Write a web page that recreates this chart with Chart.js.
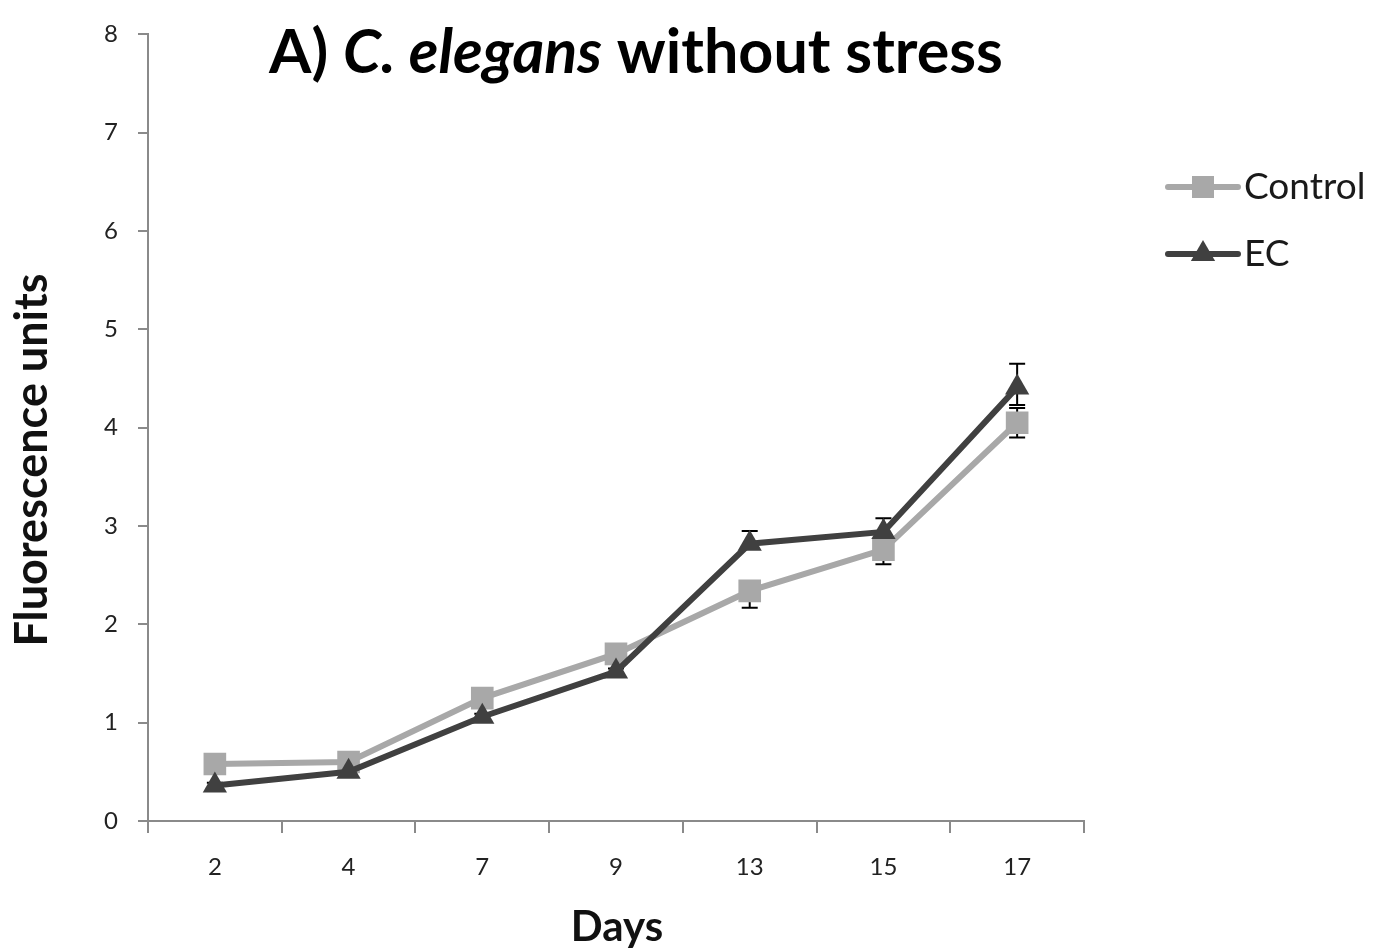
<!DOCTYPE html>
<html>
<head>
<meta charset="utf-8">
<title>Fluorescence over days</title>
<script src="https://cdn.jsdelivr.net/npm/chart.js@4/dist/chart.umd.min.js"></script>
<style>
  html, body { margin: 0; padding: 0; background: #ffffff; }
  #wrap { width: 1380px; height: 950px; }
</style>
</head>
<body>
<div id="wrap"><canvas id="chart" width="1380" height="950"></canvas></div>
<script>
// Day of measurement
const days = ['2', '4', '7', '9', '13', '15', '17'];

// Mean fluorescence per day
const controlValues = [0.58, 0.60, 1.25, 1.70, 2.34, 2.76, 4.05];
const ecValues = [0.36, 0.50, 1.06, 1.52, 2.82, 2.94, 4.41];

// Error bar extents above and below each mean
const controlErrPlus = [0.03, 0.03, 0.03, 0.03, 0.08, 0.08, 0.15];
const controlErrMinus = [0.03, 0.03, 0.03, 0.03, 0.17, 0.15, 0.15];
const ecErrPlus = [0.03, 0.03, 0.03, 0.03, 0.13, 0.14, 0.24];
const ecErrMinus = [0.03, 0.03, 0.03, 0.03, 0.05, 0.13, 0.18];

// Value axis
const yMin = 0;
const yMax = 8;
const yStep = 1;

const seriesNames = ['Control', 'EC'];
const titleParts = [
  { text: 'A) ', style: 'normal' },
  { text: 'C. elegans', style: 'italic' },
  { text: ' without stress', style: 'normal' }
];
const xAxisTitle = 'Days';
const yAxisTitle = 'Fluorescence units';

const FONT = 'Lato, "Open Sans", sans-serif';
const LIGHT = '#a8a8a8';
const DARK = '#404040';
const AXIS = '#8a8a8a';

// Vertical error bars, drawn under the lines and markers
const errorBars = {
  id: 'errorBars',
  beforeDatasetsDraw(chart) {
    const ctx = chart.ctx;
    const y = chart.scales.y;
    const plus = [controlErrPlus, ecErrPlus];
    const minus = [controlErrMinus, ecErrMinus];
    ctx.save();
    ctx.strokeStyle = '#000000';
    ctx.lineWidth = 2;
    chart.data.datasets.forEach((ds, di) => {
      const meta = chart.getDatasetMeta(di);
      meta.data.forEach((pt, i) => {
        const v = ds.data[i];
        const top = y.getPixelForValue(v + plus[di][i]);
        const bot = y.getPixelForValue(v - minus[di][i]);
        const x = pt.x;
        ctx.beginPath();
        ctx.moveTo(x, top); ctx.lineTo(x, bot);
        ctx.moveTo(x - 8, top); ctx.lineTo(x + 8, top);
        ctx.moveTo(x - 8, bot); ctx.lineTo(x + 8, bot);
        ctx.stroke();
      });
    });
    ctx.restore();
  }
};

// Heading with the species name in italics, plus the two axis titles
const headings = {
  id: 'headings',
  afterDraw(chart) {
    const ctx = chart.ctx;
    const size = 61;
    ctx.save();
    ctx.fillStyle = '#000000';
    ctx.textBaseline = 'alphabetic';
    ctx.textAlign = 'left';
    const fonts = titleParts.map(p => `${p.style} bold ${size}px ${FONT}`);
    let total = 0;
    const widths = titleParts.map((p, i) => { ctx.font = fonts[i]; const w = ctx.measureText(p.text).width; total += w; return w; });
    let x = 636 - total / 2;
    titleParts.forEach((p, i) => {
      ctx.font = fonts[i];
      ctx.fillText(p.text, x, 73);
      x += widths[i];
    });

    ctx.fillStyle = '#111111';
    ctx.textAlign = 'center';
    ctx.font = `bold 42px ${FONT}`;
    ctx.fillText(xAxisTitle, 617, 941);

    ctx.translate(47, 460);
    ctx.rotate(-Math.PI / 2);
    ctx.font = `bold 45px ${FONT}`;
    ctx.fillText(yAxisTitle, 0, 0);
    ctx.restore();
  }
};

// Legend at the right: line sample with marker, then series name
const sideLegend = {
  id: 'sideLegend',
  afterDraw(chart) {
    const ctx = chart.ctx;
    const rows = [187, 254];
    ctx.save();
    chart.data.datasets.forEach((ds, i) => {
      const yy = rows[i];
      ctx.strokeStyle = ds.borderColor;
      ctx.lineWidth = 6;
      ctx.lineCap = 'round';
      ctx.beginPath();
      ctx.moveTo(1168, yy); ctx.lineTo(1238, yy);
      ctx.stroke();
      ctx.fillStyle = ds.pointBackgroundColor;
      if (ds.pointStyle === 'rect') {
        ctx.fillRect(1203 - 11, yy - 11, 22, 22);
      } else {
        const r = 14;
        ctx.beginPath();
        ctx.moveTo(1203, yy - r);
        ctx.lineTo(1203 + r * 0.866, yy + r / 2);
        ctx.lineTo(1203 - r * 0.866, yy + r / 2);
        ctx.closePath();
        ctx.fill();
      }
      ctx.fillStyle = '#1a1a1a';
      ctx.font = `37px ${FONT}`;
      ctx.textBaseline = 'middle';
      ctx.textAlign = 'left';
      ctx.fillText(ds.label, 1244, yy);
    });
    ctx.restore();
  }
};

new Chart(document.getElementById('chart'), {
  type: 'line',
  data: {
    labels: days,
    datasets: [
      {
        label: seriesNames[0],
        data: controlValues,
        borderColor: LIGHT,
        backgroundColor: LIGHT,
        pointBackgroundColor: LIGHT,
        pointBorderWidth: 0,
        pointStyle: 'rect',
        pointRadius: 16,
        borderWidth: 6,
        tension: 0,
        order: 1
      },
      {
        label: seriesNames[1],
        data: ecValues,
        borderColor: DARK,
        backgroundColor: DARK,
        pointBackgroundColor: DARK,
        pointBorderWidth: 0,
        pointStyle: 'triangle',
        pointRadius: 14,
        borderWidth: 6,
        tension: 0,
        order: 0
      }
    ]
  },
  options: {
    responsive: false,
    animation: false,
    events: [],
    layout: { padding: { top: 30, right: 296, left: 0, bottom: 0 } },
    plugins: {
      legend: { display: false },
      tooltip: { enabled: false },
      title: { display: false }
    },
    scales: {
      x: {
        type: 'category',
        offset: true,
        grid: { display: true, drawOnChartArea: false, offset: true, tickLength: 12, color: AXIS, lineWidth: 2 },
        border: { display: true, color: AXIS, width: 2 },
        ticks: { padding: 20, color: '#222222', font: { family: FONT, size: 24 } },
        afterFit(s) { s.height = 129; }
      },
      y: {
        min: yMin,
        max: yMax,
        grid: { display: true, drawOnChartArea: false, tickLength: 10, color: AXIS, lineWidth: 2 },
        border: { display: true, color: AXIS, width: 2 },
        ticks: { stepSize: yStep, padding: 20, color: '#222222', font: { family: FONT, size: 24 } },
        afterFit(s) { s.width = 148; }
      }
    }
  },
  plugins: [errorBars, headings, sideLegend]
});
</script>
</body>
</html>
